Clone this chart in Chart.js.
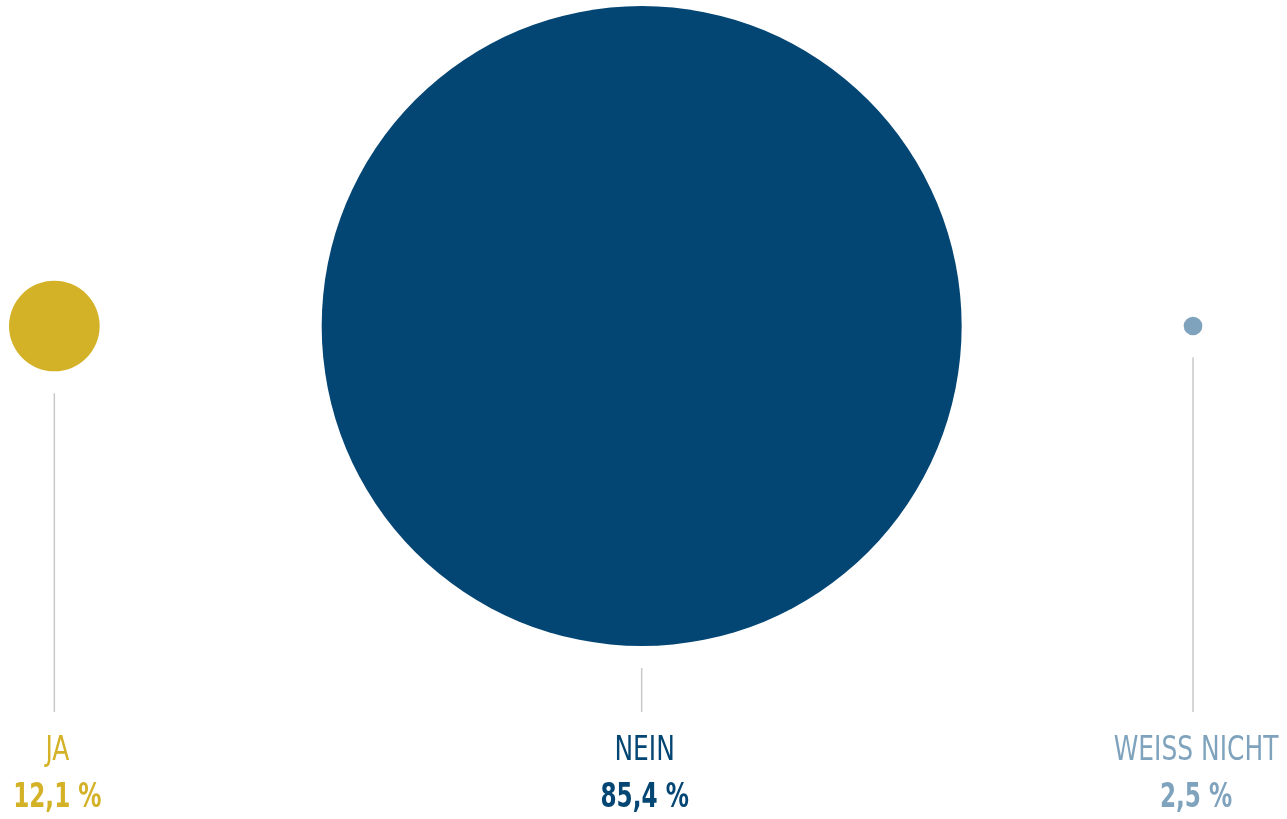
<!DOCTYPE html>
<html>
<head>
    <meta charset="utf-8" />
    <title>Umfrage</title>
    <style>
        html, body { margin: 0; padding: 0; background: #ffffff; }
        #chart { display: block; }
    </style>
</head>
<body>
    <canvas id="chart" width="1287" height="819"></canvas>

    <script src="https://cdn.jsdelivr.net/npm/chart.js"></script>
    <script type="text/javascript">

        // Antworten und Anteile in Prozent
        var labels = ['JA', 'NEIN', 'WEISS NICHT'];
        var values = [12.1, 85.4, 2.5];
        var colors = ['#D4B227', '#034573', '#7FA3BD'];
        var valueTexts = ['12,1 %', '85,4 %', '2,5 %'];

        // Pixel pro Prozentpunkt fuer den Radius, Abstand zwischen den Kreisen
        var pxPerPercent = 3.747;
        var leftMargin = 9;
        var gap = 222;
        var centerY = 326;
        var lineEndY = 712;
        var fontFamily = "'DejaVu Sans Condensed', 'Liberation Sans Narrow', 'Roboto', sans-serif";

        // Kreise nebeneinander anordnen, x aus den Radien berechnen
        var points = [];
        var cursor = leftMargin;
        values.forEach(function (v, i) {
            var r = v * pxPerPercent;
            points.push({ x: cursor + r, y: centerY, r: r });
            cursor += 2 * r + gap;
        });

        // Text horizontal gestaucht zeichnen (schmale Schrift)
        function narrowText(ctx, text, x, y, squeeze) {
            ctx.save();
            ctx.translate(x, y);
            ctx.scale(squeeze, 1);
            ctx.fillText(text, 0, 0);
            ctx.restore();
        }

        // Hilfslinien und Beschriftungen unter den Kreisen
        var labelPlugin = {
            id: 'labelPlugin',
            afterDatasetsDraw: function (chart) {
                var ctx = chart.ctx;
                var meta = chart.getDatasetMeta(0);
                ctx.save();
                meta.data.forEach(function (el, i) {
                    var x = el.x;
                    var bottom = el.y + el.options.radius;
                    ctx.strokeStyle = '#C8C8C8';
                    ctx.lineWidth = 1.5;
                    ctx.beginPath();
                    ctx.moveTo(x, bottom + 22);
                    ctx.lineTo(x, lineEndY);
                    ctx.stroke();

                    ctx.fillStyle = colors[i];
                    ctx.textAlign = 'center';
                    ctx.textBaseline = 'alphabetic';
                    ctx.font = '33px ' + fontFamily;
                    narrowText(ctx, labels[i], x + 3, 760, 0.84);
                    ctx.font = 'bold 33px ' + fontFamily;
                    narrowText(ctx, valueTexts[i], x + 3, 807, 0.78);
                });
                ctx.restore();
            }
        };

        var ctx = document.getElementById('chart').getContext('2d');
        var myChart = new Chart(ctx, {
            type: 'bubble',
            data: {
                labels: labels,
                datasets: [{
                    data: points,
                    backgroundColor: colors,
                    borderWidth: 0,
                    hoverRadius: 0,
                    clip: false
                }]
            },
            options: {
                responsive: false,
                animation: false,
                layout: { padding: 0, autoPadding: false },
                plugins: {
                    legend: { display: false },
                    tooltip: { enabled: false }
                },
                scales: {
                    x: { type: 'linear', min: 0, max: 1287, display: false },
                    y: { type: 'linear', min: 0, max: 819, reverse: true, display: false }
                }
            },
            plugins: [labelPlugin]
        });
    </script>
</body>
</html>
